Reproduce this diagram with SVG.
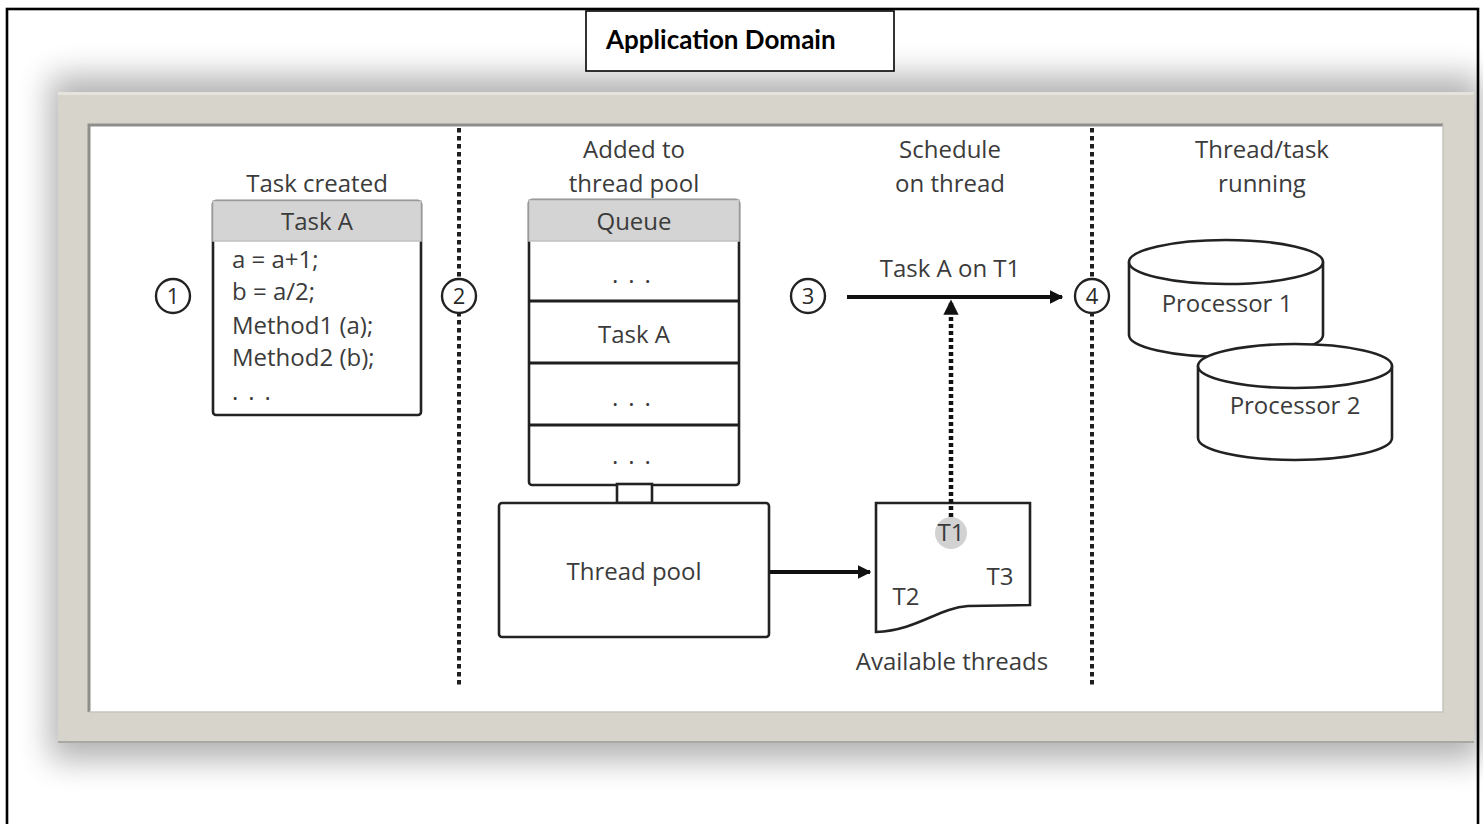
<svg xmlns="http://www.w3.org/2000/svg" width="1483" height="824" viewBox="0 0 1483 824">
  <style>
    .lbl { font-family: "Open Sans", "Noto Sans", sans-serif; font-size: 24px; fill: #3b3b3b; }
    .mid { text-anchor: middle; }
    .dots { letter-spacing: 10px; }
    .num { font-family: "Open Sans", "Noto Sans", sans-serif; font-size: 22px; fill: #2a2a2a; text-anchor: middle; }
    .box { fill: #ffffff; stroke: #222222; stroke-width: 2.6; }
    .hdr { fill: #d4d4d4; stroke: #c2c2c2; stroke-width: 1.5; }
    .circ { fill: #ffffff; stroke: #222222; stroke-width: 2.4; }
    .divider { stroke: #1e1e1e; stroke-width: 3.2; }
    .sep { stroke: #1e1e1e; stroke-width: 4; stroke-dasharray: 4.5 3.5; fill: none; }
    .arrow { stroke: #111111; stroke-width: 4; fill: none; }
    .dotarrow { stroke: #111111; stroke-width: 4.5; stroke-dasharray: 4 3; fill: none; }
  </style>
  <defs>
    <marker id="head" viewBox="0 0 10 10" refX="9" refY="5" markerWidth="3.4" markerHeight="3.4" orient="auto" markerUnits="strokeWidth">
      <path d="M0,0 L10,5 L0,10 Z" fill="#111111"/>
    </marker>
    <filter id="soft" x="-10%" y="-20%" width="120%" height="140%">
      <feGaussianBlur stdDeviation="16"/>
    </filter>
  </defs>

  <!-- page -->
  <rect x="0" y="0" width="1483" height="824" fill="#ffffff"/>
  <rect x="7" y="9" width="1471" height="830" fill="none" stroke="#000000" stroke-width="2.6"/>

  <!-- picture frame with drop shadow -->
  <g id="frame">
    <rect x="50" y="76" width="1432" height="684" fill="#000000" opacity="0.3" filter="url(#soft)"/>
    <rect x="58" y="92" width="1416" height="651" fill="#d6d4cb"/>
    <rect x="58" y="92" width="1416" height="3" fill="#e4e3dc"/>
    <rect x="58" y="741" width="1416" height="2" fill="#a9a8a2"/>
    <rect x="89" y="125" width="1354" height="587" fill="#ffffff"/>
    <path d="M89,712 L89,125 L1443,125" fill="none" stroke="#8e8e8a" stroke-width="3"/>
    <path d="M1443,125 L1443,712 L89,712" fill="none" stroke="#c6c5bd" stroke-width="1.5"/>
  </g>

  <!-- title -->
  <g id="title">
    <rect x="586" y="11" width="308" height="60" fill="#ffffff" stroke="#000000" stroke-width="1.6"/>
    <text x="606" y="49" font-family="Lato, 'Liberation Sans', sans-serif" font-weight="bold" font-size="26" fill="#000000">Application Domain</text>
  </g>

  <!-- stage separators -->
  <g id="separators">
    <line class="sep" x1="459" y1="128" x2="459" y2="688"/>
    <line class="sep" x1="1092" y1="128" x2="1092" y2="688"/>
  </g>

  <!-- stage headings -->
  <g id="headings">
    <text class="lbl mid" x="317" y="192">Task created</text>
    <text class="lbl mid" x="634" y="158">Added to</text>
    <text class="lbl mid" x="634" y="192">thread pool</text>
    <text class="lbl mid" x="950" y="158">Schedule</text>
    <text class="lbl mid" x="950" y="192">on thread</text>
    <text class="lbl mid" x="1262" y="158">Thread/task</text>
    <text class="lbl mid" x="1262" y="192">running</text>
  </g>

  <!-- step markers -->
  <g id="step1"><circle class="circ" cx="173" cy="296" r="17"/><text class="num" x="173" y="304">1</text></g>
  <g id="step2"><circle class="circ" cx="459" cy="296" r="17"/><text class="num" x="459" y="304">2</text></g>
  <g id="step3"><circle class="circ" cx="808" cy="296" r="17"/><text class="num" x="808" y="304">3</text></g>
  <g id="step4"><circle class="circ" cx="1092" cy="296" r="17"/><text class="num" x="1092" y="304">4</text></g>

  <!-- task A -->
  <g id="task-a">
    <rect class="box" x="213" y="201" width="208" height="214" rx="3"/>
    <rect class="hdr" x="213" y="201" width="208" height="40"/>
    <text class="lbl mid" x="317" y="230">Task A</text>
    <text class="lbl" x="232" y="268">a = a+1;</text>
    <text class="lbl" x="232" y="300">b = a/2;</text>
    <text class="lbl" x="232" y="334">Method1 (a);</text>
    <text class="lbl" x="232" y="366">Method2 (b);</text>
    <text class="lbl dots" x="232" y="400">...</text>
  </g>

  <!-- queue -->
  <g id="queue">
    <rect class="box" x="529" y="200" width="210" height="285" rx="3"/>
    <rect class="hdr" x="529" y="200" width="210" height="41"/>
    <text class="lbl mid" x="634" y="230">Queue</text>
    <line class="divider" x1="529" y1="301" x2="739" y2="301"/>
    <line class="divider" x1="529" y1="363" x2="739" y2="363"/>
    <line class="divider" x1="529" y1="425" x2="739" y2="425"/>
    <text class="lbl dots" x="612" y="283">...</text>
    <text class="lbl mid" x="634" y="343">Task A</text>
    <text class="lbl dots" x="612" y="406">...</text>
    <text class="lbl dots" x="612" y="464">...</text>
  </g>

  <!-- link between queue and pool -->
  <g id="queue-link">
    <rect x="617" y="484" width="35" height="19" fill="#ffffff" stroke="#222222" stroke-width="2.6"/>
  </g>

  <!-- thread pool -->
  <g id="thread-pool">
    <rect class="box" x="499" y="503" width="270" height="134" rx="3"/>
    <text class="lbl mid" x="634" y="580">Thread pool</text>
  </g>

  <!-- available threads -->
  <g id="available-threads">
    <path d="M876,503 L1030,503 L1030,605 L968,606 C938,608 918,630 876,632 Z" fill="#ffffff" stroke="#222222" stroke-width="2.6"/>
    <circle cx="951" cy="533" r="16" fill="#d2d2d2"/>
    <text class="lbl mid" x="951" y="541">T1</text>
    <text class="lbl mid" x="906" y="605">T2</text>
    <text class="lbl mid" x="1000" y="585">T3</text>
    <text class="lbl mid" x="952" y="670">Available threads</text>
  </g>

  <!-- processors -->
  <g id="processor-1">
    <path d="M1129,262 L1129,335 A97,22 0 0 0 1323,335 L1323,262" fill="#ffffff" stroke="#222222" stroke-width="2.6"/>
    <ellipse cx="1226" cy="262" rx="97" ry="22" fill="#ffffff" stroke="#222222" stroke-width="2.6"/>
    <text class="lbl mid" x="1227" y="312">Processor 1</text>
  </g>
  <g id="processor-2">
    <path d="M1198,366 L1198,438 A97,22 0 0 0 1392,438 L1392,366" fill="#ffffff" stroke="#222222" stroke-width="2.6"/>
    <ellipse cx="1295" cy="366" rx="97" ry="22" fill="#ffffff" stroke="#222222" stroke-width="2.6"/>
    <text class="lbl mid" x="1295" y="414">Processor 2</text>
  </g>

  <!-- connectors -->
  <g id="connectors">
    <line class="arrow" x1="847" y1="297" x2="1062" y2="297" marker-end="url(#head)"/>
    <text class="lbl mid" x="950" y="277">Task A on T1</text>
    <line class="dotarrow" x1="951" y1="517" x2="951" y2="301" marker-end="url(#head)"/>
    <line class="arrow" x1="770" y1="572" x2="870" y2="572" marker-end="url(#head)"/>
  </g>
</svg>
